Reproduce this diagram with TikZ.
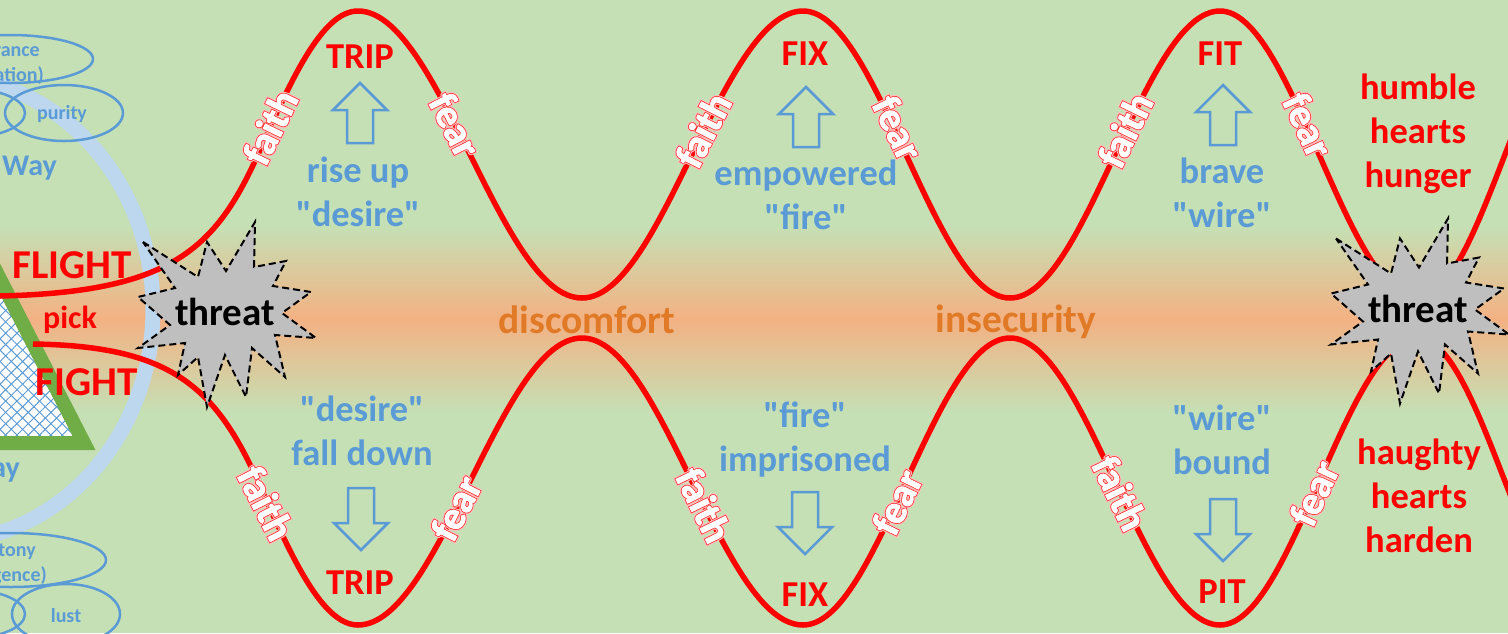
\documentclass[tikz,border=0pt]{standalone}
\usepackage{fontspec}
\setmainfont{Carlito}[Ligatures=TeXOff]
\usetikzlibrary{patterns.meta}

\definecolor{bggreen}{RGB}{197,224,180}
\definecolor{bgorange}{RGB}{244,177,131}
\definecolor{skyblue}{RGB}{91,155,213}
\definecolor{paleblue}{RGB}{189,215,238}
\definecolor{leafgreen}{RGB}{112,173,71}
\definecolor{rust}{RGB}{224,122,38}
\definecolor{burstgray}{RGB}{191,191,191}

% white word with a red halo
\newcommand{\glow}[1]{%
  \makebox[0pt]{\color{red!25}\addfontfeature{FakeBold=11}#1}%
  \makebox[0pt]{\color{red!80}\addfontfeature{FakeBold=6}#1}%
  \makebox[0pt]{\color{white}\addfontfeature{FakeBold=2}#1}}

% dashed grey star with the word in it
\newcommand{\threatburst}[2]{%
  \draw[burst, shift={(#1)}] (-82,-70) -- (-27,-35) -- (-18,-70) -- (1,-41)
    -- (30,-90) -- (29,-45) -- (61,-51) -- (48,-26) -- (86,-20) -- (57,1)
    -- (91,26) -- (50,23) -- (60,65) -- (27,36) -- (21,85) -- (0,43)
    -- (-18,95) -- (-27,45) -- (-47,63) -- (-40,31) -- (-87,36) -- (-55,13)
    -- (-87,-15) -- (-50,-24) -- cycle;
  \node[threat] (#2) at (#1) {threat};}

\begin{document}
\begin{tikzpicture}[
    x=1pt, y=-1pt,
    wave/.style={red, line width=5.5pt},
    ring/.style={draw=skyblue, line width=2.5pt},
    hollow/.style={draw=skyblue, line width=2.5pt, line join=miter},
    burst/.style={fill=burstgray, draw=black, line width=2pt, dash pattern=on 7pt off 4pt},
    threat/.style={font=\bfseries\fontsize{39}{39}\selectfont, inner sep=0pt},
    peak/.style={text=red, font=\bfseries\fontsize{36.5}{44}\selectfont, align=center, inner sep=0pt},
    mood/.style={text=skyblue, font=\bfseries\fontsize{36.5}{44}\selectfont, align=center, inner sep=0pt},
    tag/.style={font=\bfseries\fontsize{40}{40}\selectfont, inner sep=0pt},
    zone/.style={text=rust, font=\bfseries\fontsize{39.5}{40}\selectfont, inner sep=0pt},
    side/.style={text=skyblue, font=\bfseries\fontsize{20}{24}\selectfont, inner sep=0pt},
    choice/.style={text=red, font=\bfseries\fontsize{41}{41}\selectfont, inner sep=0pt},
    uparrow/.pic={\draw[hollow] (-13,30) -- (-13,-3) -- (-27,-3) -- (0,-30)
      -- (27,-3) -- (13,-3) -- (13,30) -- cycle;},
    downarrow/.pic={\draw[hollow] (-13,-31) -- (-13,4) -- (-27,4) -- (0,31)
      -- (27,4) -- (13,4) -- (13,-31) -- cycle;}
]
\useasboundingbox (0,0) rectangle (1508,633);
\clip (0,0) rectangle (1508,633);

% background
\fill[bggreen] (0,0) rectangle (1508,633);
\shade[top color=bggreen, bottom color=bgorange] (0,226) rectangle (1508,319);
\shade[top color=bgorange, bottom color=bggreen] (0,318) rectangle (1508,412);

% left: ways and triangle
\draw[paleblue, line width=15pt] (-60,309) ellipse [x radius=213pt, y radius=233pt];
\draw[ring] (10,59) ellipse [x radius=83pt, y radius=24pt];
\draw[ring] (64,113) ellipse [x radius=59pt, y radius=28pt];
\draw[ring] (-30,113) ellipse [x radius=55pt, y radius=24pt];
\draw[ring] (11,560) ellipse [x radius=95pt, y radius=27pt];
\draw[ring] (66,614) ellipse [x radius=54pt, y radius=30pt];
\draw[ring] (-30,614) ellipse [x radius=55pt, y radius=24pt];
\node[side, anchor=east] (rance)  at (40,52)  {rance};
\node[side, anchor=east] (ation)  at (44,76)  {ation)};
\node[side] (purity) at (62,114) {purity};
\node[side, anchor=east] (tony)   at (36,552) {tony};
\node[side, anchor=east] (gence)  at (47,576) {gence)};
\node[side] (lust)   at (66,616) {lust};
\node[side, anchor=east, font=\bfseries\fontsize{30}{30}\selectfont] (way)  at (57,168) {Way};
\node[side, anchor=east, font=\bfseries\fontsize{30}{30}\selectfont] (ay)   at (20,472) {ay};

\fill[white] (84,443) -- (-66,150) -- (-300,443) -- cycle;
\fill[pattern={Lines[angle=45, distance=8pt, line width=1pt]}, pattern color=skyblue]
  (84,443) -- (-66,150) -- (-300,443) -- cycle;
\fill[pattern={Lines[angle=-45, distance=8pt, line width=1pt]}, pattern color=skyblue]
  (84,443) -- (-66,150) -- (-300,443) -- cycle;
\draw[leafgreen, line width=14pt, line join=miter] (84,443) -- (-66,150) -- (-300,443) -- cycle;

\node[choice] (flight) at (72,265) {FLIGHT};
\node[choice, font=\bfseries\fontsize{32}{32}\selectfont] (pick) at (70,320) {pick};
\node[choice] (fight) at (87,382) {FIGHT};

% the two waves
\draw[wave] (0,296) .. controls (170,292) and (215,250) .. (258,154.5)
  sin (358,11) cos (470,154.5) sin (582,298) cos (692,154.5)
  sin (803,11) cos (906,154.5) sin (1010,298) cos (1115,154.5)
  sin (1220,11) cos (1319,154.5) sin (1418,298) cos (1505,154.5) sin (1593,11);
\draw[wave] (33,344) .. controls (170,346) and (215,386) .. (258,481.5)
  sin (358,625) cos (470,481.5) sin (582,338) cos (692,481.5)
  sin (803,625) cos (906,481.5) sin (1010,338) cos (1115,481.5)
  sin (1220,625) cos (1319,481.5) sin (1418,338) cos (1505,481.5) sin (1593,625);

% threats
\threatburst{225,312}{threatL}
\threatburst{1418,308.5}{threatR}

% faith and fear
\node[tag, rotate=64]  (faithA) at (270,127) {\glow{faith}};
\node[tag, rotate=-63] (fearA)  at (455,125) {\glow{fear}};
\node[tag, rotate=63]  (faithB) at (703,130) {\glow{faith}};
\node[tag, rotate=-64] (fearB)  at (898,128) {\glow{fear}};
\node[tag, rotate=64]  (faithC) at (1125,130) {\glow{faith}};
\node[tag, rotate=-65] (fearC)  at (1308,125) {\glow{fear}};
\node[tag, rotate=-63] (faithD) at (266,503) {\glow{faith}};
\node[tag, rotate=63]  (fearD)  at (456,508) {\glow{fear}};
\node[tag, rotate=-64] (faithE) at (704,505) {\glow{faith}};
\node[tag, rotate=64]  (fearE)  at (897,502) {\glow{fear}};
\node[tag, rotate=-64] (faithF) at (1120,493) {\glow{faith}};
\node[tag, rotate=65]  (fearF)  at (1314,493) {\glow{fear}};

% TRIP
\node[peak] (tripUp) at (360,57) {TRIP};
\pic at (360,113) {uparrow};
\node[mood] (riseUp) at (358,192) {rise up\\"desire"};
\node[mood] (fallDown) at (362,431) {"desire"\\fall down};
\pic at (361,519) {downarrow};
\node[peak] (tripDown) at (360,583) {TRIP};

% FIX
\node[peak] (fixUp) at (805,54) {FIX};
\pic at (806,117) {uparrow};
\node[mood] (empowered) at (806,195) {empowered\\"fire"};
\node[mood] (imprisoned) at (805,440) {"fire"\\imprisoned};
\pic at (805,523) {downarrow};
\node[peak] (fixDown) at (805,595) {FIX};

% FIT / PIT
\node[peak] (fitUp) at (1220,54) {FIT};
\pic at (1223,115) {uparrow};
\node[mood] (brave) at (1222,193) {brave\\"wire"};
\node[mood] (bound) at (1222,440) {"wire"\\bound};
\pic at (1223,530) {downarrow};
\node[peak] (pitDown) at (1222,592) {PIT};

% middle band
\node[zone] (discomfort) at (587,320) {discomfort};
\node[zone] (insecurity) at (1016,322) {insecurity};

% hearts
\node[peak] (humble) at (1418,134) {humble\\hearts\\hunger};
\node[peak] (haughty) at (1419,496) {haughty\\hearts\\harden};

\end{tikzpicture}
\end{document}
